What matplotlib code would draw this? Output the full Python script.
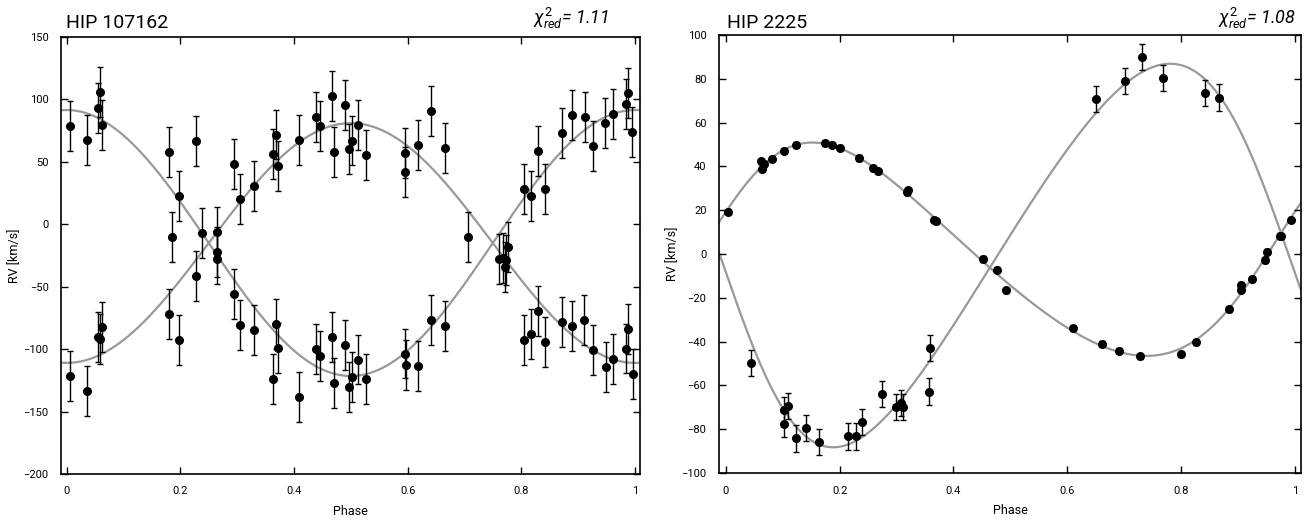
import numpy as np
import matplotlib
matplotlib.use("Agg")
import matplotlib.pyplot as plt

plt.rcParams['font.family'] = ['Roboto', 'DejaVu Sans']
plt.rcParams['mathtext.fontset'] = 'custom'
plt.rcParams['mathtext.rm'] = 'Roboto'
plt.rcParams['mathtext.it'] = 'Roboto:italic'

# ---- HIP 107162 (left) ----
left_phase = [0.0058, 0.036, 0.0556, 0.058, 0.063, 0.0065, 0.036, 0.0544, 0.058, 0.063,
              0.18, 0.18, 0.185, 0.1976, 0.1976, 0.2275, 0.2275, 0.238, 0.2654, 0.2654, 0.2654,
              0.2947, 0.2947, 0.305, 0.305, 0.329, 0.329, 0.3637, 0.3637, 0.3677, 0.3677,
              0.372, 0.372, 0.408, 0.408, 0.439, 0.439, 0.445, 0.445, 0.4667, 0.4667,
              0.4707, 0.4707, 0.49, 0.49, 0.4976, 0.4976, 0.503, 0.503, 0.512, 0.512,
              0.527, 0.527, 0.595, 0.595, 0.595, 0.597, 0.619, 0.619, 0.642, 0.642,
              0.6655, 0.6655, 0.706, 0.760, 0.768, 0.771, 0.774, 0.776,
              0.8046, 0.8046, 0.8163, 0.8163, 0.830, 0.830, 0.841, 0.841, 0.872, 0.872,
              0.889, 0.889, 0.9116, 0.9105, 0.9263, 0.9263, 0.948, 0.9497, 0.9607, 0.9614,
              0.9847, 0.9847, 0.9877, 0.9877, 0.9958, 0.9965]
left_rv = [78.8, 67.6, 93.5, 106.0, 79.6, -121.6, -133.9, -90.1, -91.7, -82.4,
           58.0, -72.2, -9.9, 22.7, -92.3, 67.0, -41.5, -7.3, -6.2, -22.0, -28.0,
           48.1, -55.6, 20.0, -80.5, 31.0, -84.8, 56.0, -124.0, 71.9, -79.7,
           47.0, -99.0, 67.6, -138.2, 86.3, -99.7, 78.8, -105.6, 102.9, -90.6,
           58.2, -127.0, 95.4, -96.5, 60.4, -130.0, 67.1, -122.0, 79.6, -108.3,
           55.3, -124.0, 57.0, 41.9, -103.5, -112.5, 63.8, -113.5, 91.1, -76.5,
           61.2, -81.5, -10.4, -28.1, -26.8, -34.0, -28.9, -18.2,
           28.5, -92.3, 22.7, -88.2, 58.5, -69.8, 28.5, -94.1, 72.9, -78.1,
           87.9, -81.6, 86.3, -76.5, 62.8, -100.6, 81.2, -114.4, 88.7, -107.8,
           96.2, -99.5, 105.5, -83.7, 73.8, -119.8]
left_err = [20.0] * len(left_phase)

# orbit solutions: (gamma, K, e, omega [rad], T_peri [phase])
left_orbit_1 = (-15.0, 106.5, 0.0, 0.0, 0.0)
left_orbit_2 = (-15.0, 96.0, 0.0, np.pi, 0.0)

# ---- HIP 2225 (right) ----
right_phase_1 = [0.0046, 0.0615, 0.063, 0.0668, 0.0814, 0.103, 0.123, 0.1745, 0.187, 0.2,
                 0.2348, 0.258, 0.268, 0.318, 0.3195, 0.3655, 0.3696, 0.4517, 0.4763, 0.4926,
                 0.6098, 0.6613, 0.6907, 0.7287, 0.800, 0.826, 0.884, 0.906, 0.906, 0.9245,
                 0.948, 0.952, 0.974, 0.975, 0.993]
right_rv_1 = [19.4, 42.4, 38.9, 41.2, 43.5, 47.1, 50.0, 50.5, 50.0, 48.6,
              43.8, 39.2, 37.7, 28.2, 29.0, 15.7, 15.0, -2.3, -7.2, -16.5,
              -33.9, -40.9, -44.2, -46.7, -45.8, -40.4, -25.2, -14.2, -16.3, -11.4,
              -2.7, 1.1, 8.4, 8.0, 15.7]
right_err_1 = [1.2] * len(right_phase_1)

right_phase_2 = [0.0445, 0.103, 0.103, 0.109, 0.123, 0.141, 0.164, 0.2144, 0.2285, 0.240,
                 0.2747, 0.2988, 0.3081, 0.3121, 0.359, 0.358,
                 0.650, 0.701, 0.732, 0.769, 0.8424, 0.8675]
right_rv_2 = [-49.9, -71.4, -77.5, -69.4, -84.2, -79.5, -86.0, -83.3, -83.3, -76.6,
              -63.8, -69.9, -68.1, -69.9, -42.9, -62.8,
              70.9, 78.9, 90.0, 80.4, 73.5, 71.4]
right_err_2 = [6.0] * len(right_phase_2)

right_orbit_1 = (-0.106, 48.709, 0.145, 5.044, 0.997)
right_orbit_2 = (0.979, -87.568, 0.147, 4.843, 0.005)


def rv_curve(phase, gamma, K, e, w, T):
    M = 2 * np.pi * (np.asarray(phase) - T)
    E = M.copy()
    for _ in range(40):
        E = E - (E - e * np.sin(E) - M) / (1 - e * np.cos(E))
    nu = 2 * np.arctan2(np.sqrt(1 + e) * np.sin(E / 2), np.sqrt(1 - e) * np.cos(E / 2))
    return gamma + K * (np.cos(nu + w) + e * np.cos(w))


fig = plt.figure(figsize=(13.09, 5.23), dpi=100)
ax1 = fig.add_axes([61 / 1309, 1 - 474 / 523, (640 - 61) / 1309, (474 - 37) / 523])
ax2 = fig.add_axes([719 / 1309, 1 - 473 / 523, (1301 - 719) / 1309, (473 - 35) / 523])

ph = np.linspace(-0.02, 1.02, 800)
ebar = dict(fmt='o', color='black', ms=5.5, elinewidth=1, capsize=2.5, capthick=1, zorder=2)

ax1.plot(ph, rv_curve(ph, *left_orbit_1), color='#999999', lw=1.6, zorder=1)
ax1.plot(ph, rv_curve(ph, *left_orbit_2), color='#999999', lw=1.6, zorder=1)
ax1.errorbar(left_phase, left_rv, yerr=left_err, **ebar)

ax2.plot(ph, rv_curve(ph, *right_orbit_1), color='#999999', lw=1.6, zorder=1)
ax2.plot(ph, rv_curve(ph, *right_orbit_2), color='#999999', lw=1.6, zorder=1)
ax2.errorbar(right_phase_1, right_rv_1, yerr=right_err_1, **ebar)
ax2.errorbar(right_phase_2, right_rv_2, yerr=right_err_2, **ebar)

ax1.set_xlim(-0.010, 1.009)
ax1.set_ylim(-200, 150)
ax1.set_yticks([-200, -150, -100, -50, 0, 50, 100, 150])
ax2.set_xlim(-0.012, 1.011)
ax2.set_ylim(-100, 100)
ax2.set_yticks([-100, -80, -60, -40, -20, 0, 20, 40, 60, 80, 100])

for ax in (ax1, ax2):
    ax.set_xticks([0, 0.2, 0.4, 0.6, 0.8, 1.0])
    ax.set_xticklabels(['0', '0.2', '0.4', '0.6', '0.8', '1'])
    ax.tick_params(direction='in', top=True, right=True, length=5, width=1, labelsize=8, pad=9)
    for sp in ax.spines.values():
        sp.set_linewidth(1.2)
    ax.set_xlabel('Phase', fontsize=9, labelpad=6)
    ax.set_ylabel('RV [km/s]', fontsize=9, labelpad=2)

fig.text(66 / 1309, 1 - 28 / 523, 'HIP 107162', fontsize=14, va='baseline', ha='left')
fig.text(727 / 1309, 1 - 28 / 523, 'HIP 2225', fontsize=14, va='baseline', ha='left')
fig.text(609 / 1309, 1 - 24 / 523, r'$\chi^2_{red}$= 1.11', fontsize=13, style='italic',
         va='baseline', ha='right')
fig.text(1296 / 1309, 1 - 24 / 523, r'$\chi^2_{red}$= 1.08', fontsize=13, style='italic',
         va='baseline', ha='right')

fig.savefig('out.png', dpi=100)
